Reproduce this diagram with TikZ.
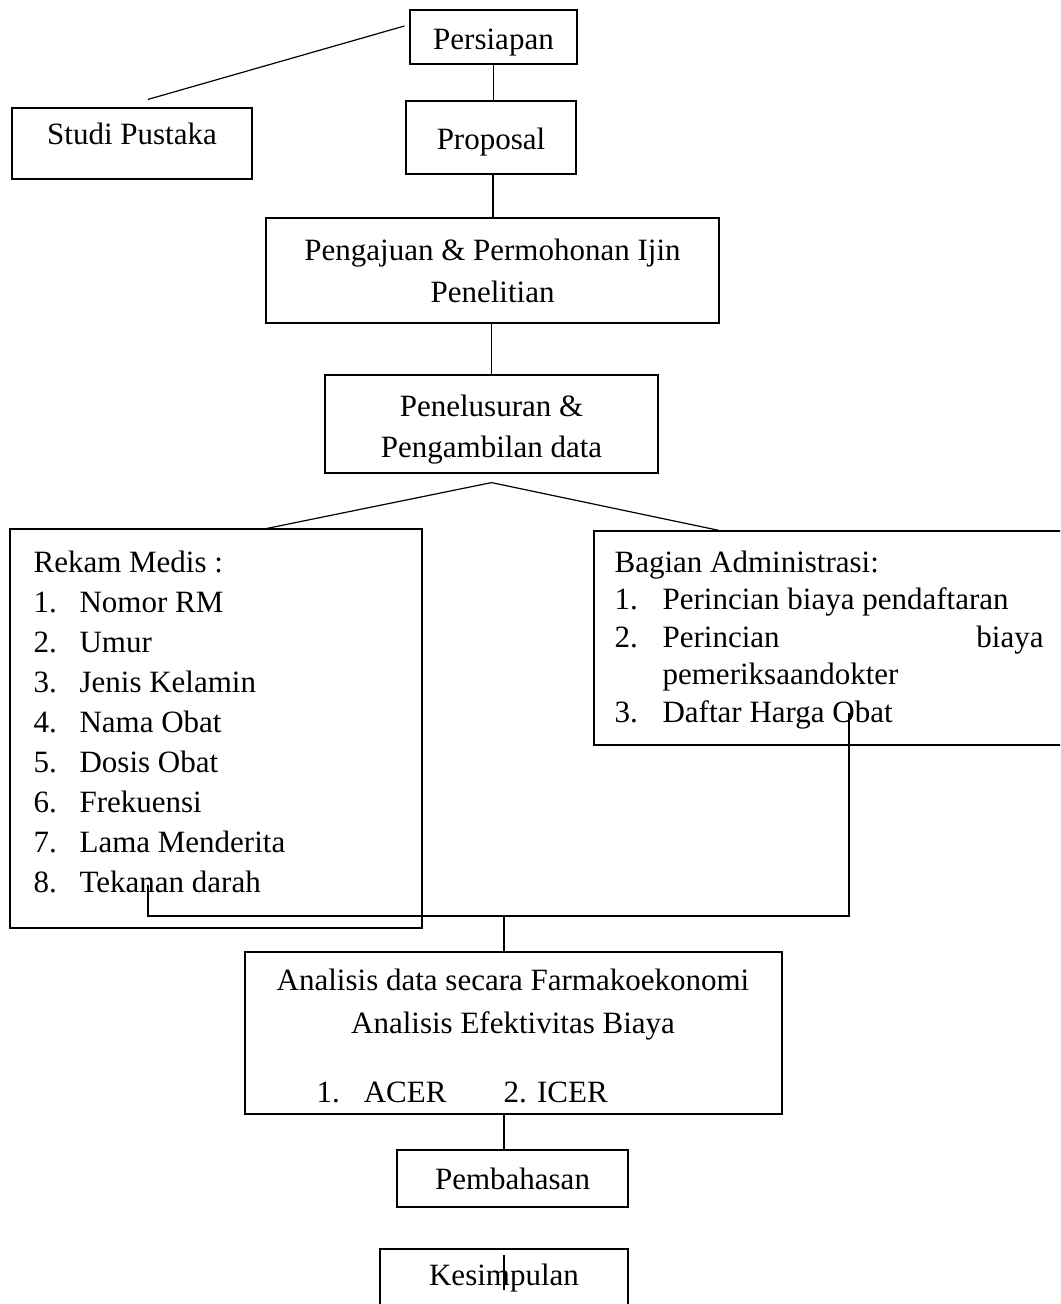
\documentclass[tikz,border=0pt]{standalone}
\usepackage{fontspec}
\setmainfont{Liberation Serif}
\usetikzlibrary{positioning, calc}

\begin{document}
\begin{tikzpicture}[
    x=0.5pt, y=-0.5pt, line width=0.6pt,
    box/.style={draw, rectangle, inner sep=0pt, align=center, font=\fontsize{15.5}{21}\selectfont},
    txt/.style={inner sep=0pt, align=left, font=\fontsize{15.5}{20}\selectfont}
]
\useasboundingbox (0,0) rectangle (1060,1304);
\clip (0,0) rectangle (1060,1304);

% Preparation boxes
\node[box, minimum width=83.5pt, minimum height=27pt, text height=13pt, text depth=0pt] (persiapan) at (493.5,37) {Persiapan};
\node[box, minimum width=120pt, minimum height=35.5pt, text height=10pt, text depth=8.5pt] (studi) at (132,143.5) {Studi Pustaka};
\node[box, minimum width=85pt, minimum height=36.5pt, text height=12.5pt, text depth=0pt] (proposal) at (491,137.5) {Proposal};
\node[box, minimum width=226.5pt, minimum height=52.5pt] (ijin) at (492.5,270.5) {Pengajuan \& Permohonan Ijin\\Penelitian};
\node[draw, minimum width=166.5pt, minimum height=49pt] (telusur) at (491.5,424) {};
\node[box, draw=none, font=\fontsize{15.5}{20.5}\selectfont] (telusurText) at (491.5,430) {Penelusuran \&\\Pengambilan data};

% Lines
\draw ([shift={(16,-8)}]studi.north) -- ([shift={(-5,-11)}]persiapan.west);
\draw (persiapan.south) -- (persiapan.south |- proposal.north);
\draw ([shift={(2,0)}]proposal.south) -- ([shift={(2,0)}]proposal.south |- ijin.north);
\draw (telusur.north |- ijin.south) -- (telusur.north);

% Data sources
\node[draw, minimum width=206pt, minimum height=199.5pt] (medis) at (216,728.5) {};
\node[draw, minimum width=235pt, minimum height=107pt] (admin) at (829,638) {};

\node[txt, anchor=north west] (medisText) at (33,550) {Rekam Medis :\\
\makebox[23pt][l]{1.}Nomor RM\\
\makebox[23pt][l]{2.}Umur\\
\makebox[23pt][l]{3.}Jenis Kelamin\\
\makebox[23pt][l]{4.}Nama Obat\\
\makebox[23pt][l]{5.}Dosis Obat\\
\makebox[23pt][l]{6.}Frekuensi\\
\makebox[23pt][l]{7.}Lama Menderita\\
\makebox[23pt][l]{8.}Tekanan darah};

\node[txt, anchor=north west, font=\fontsize{15.5}{18.75}\selectfont] (adminText) at (614,550) {Bagian Administrasi:\\
\makebox[24pt][l]{1.}Perincian biaya pendaftaran\\
\makebox[24pt][l]{2.}\makebox[190.5pt][l]{Perincian\hfill biaya}\\
\hspace*{24pt}pemeriksaandokter\\
\makebox[24pt][l]{3.}Daftar Harga Obat};

\coordinate (split) at ([shift={(0,9)}]telusur.south);
\draw (split) -- ([shift={(51,0)}]medis.north);
\draw (split) -- ([shift={(-110,0)}]admin.north);

% Joining line
\coordinate (adminEnd) at (849,713);
\coordinate (medisEnd) at (148,885);
\coordinate (join) at (504,916);

% Analysis and results
\node[draw, minimum width=268.5pt, minimum height=81pt] (analisis) at (513.5,1033) {};
\node[box, draw=none, font=\fontsize{15.5}{21.5}\selectfont] (anaTitle) at (513,1004.5) {Analisis data secara Farmakoekonomi\\Analisis Efektivitas Biaya};
\node[txt, anchor=west] (anaList) at (316,1092) {1.\hspace{12pt}ACER\hspace{28.5pt}2. ICER};

\node[box, minimum width=115.5pt, minimum height=28.5pt] (bahas) at (512.5,1178.5) {Pembahasan};
\node[box, minimum width=124pt, minimum height=29.5pt] (simpul) at (504,1278.5) {Kesimpulan};

\draw (adminEnd) |- (medisEnd |- join) -- (medisEnd);
\draw (join) -- (join |- analisis.north);
\draw (join |- analisis.south) -- (join |- bahas.north);

% Stray mark
\coordinate (markTop) at (504,1255);
\coordinate (markBot) at (504,1290);
\draw (markTop) -- (markBot);

\end{tikzpicture}
\end{document}
